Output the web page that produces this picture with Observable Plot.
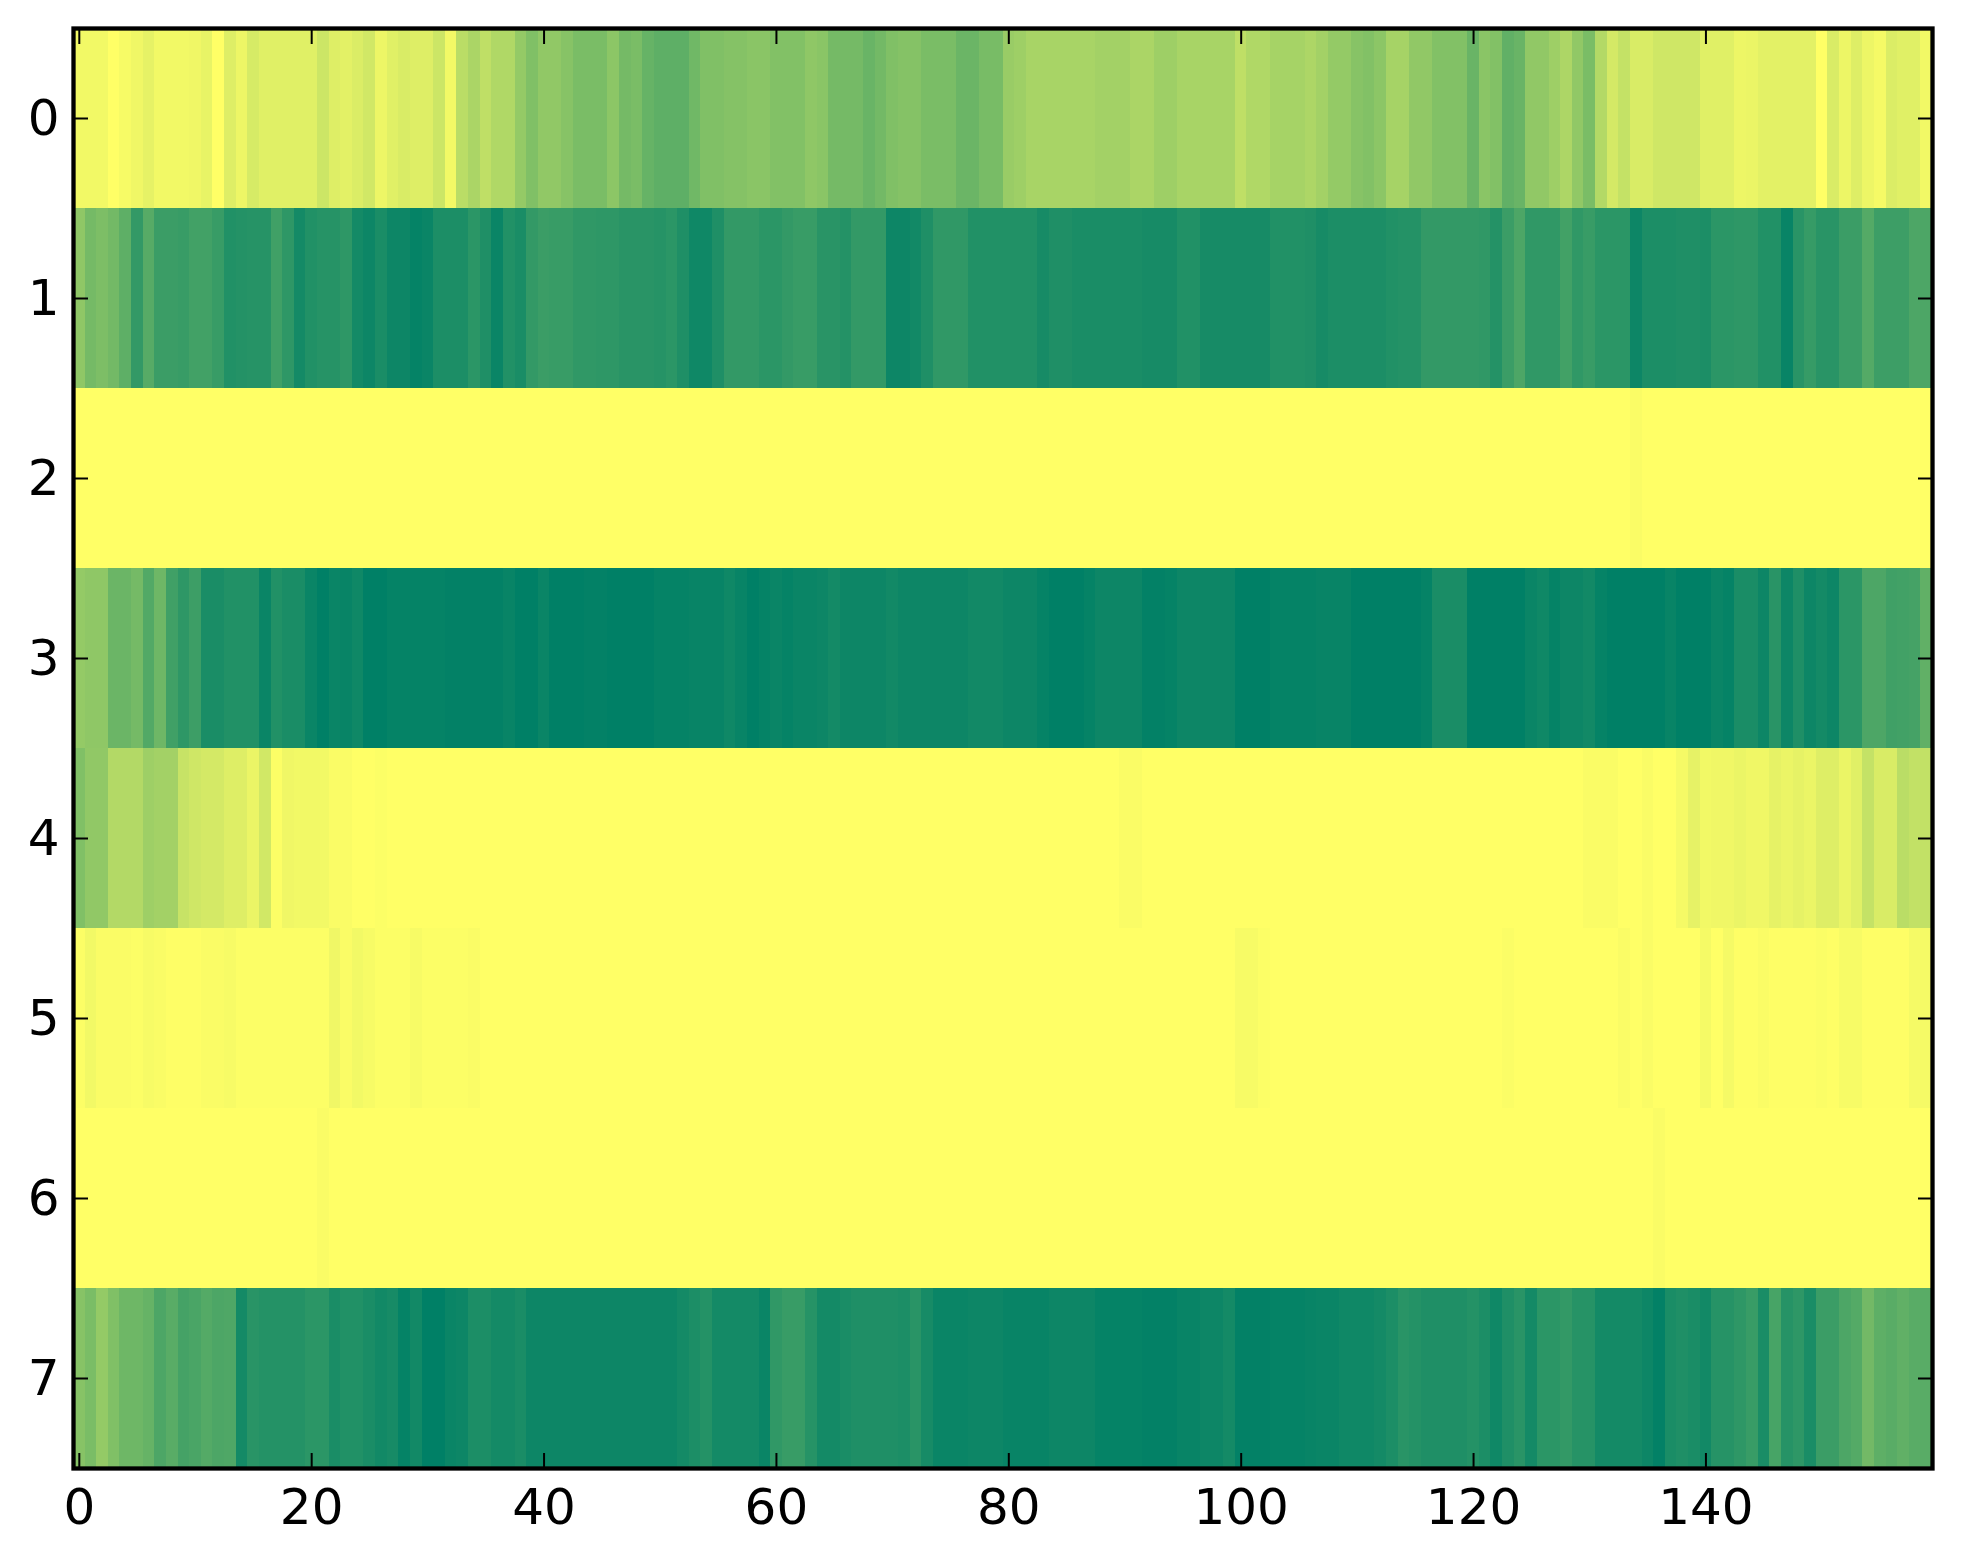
<!DOCTYPE html>
<html>
<head>
<meta charset="utf-8">
<script src="https://cdn.jsdelivr.net/npm/d3@7"></script>
<script src="https://cdn.jsdelivr.net/npm/@observablehq/plot@0.6"></script>
<style>
html,body{margin:0;padding:0;background:#fff}
svg{display:block}
</style>
</head>
<body>
<div id="chart"></div>
<script>
const row0 = [.05,.05,.05,0,.03,.06,.10,.05,.05,.05,
.06,.09,0,.13,.07,.16,.12,.12,.12,.12,
.12,.2,.13,.11,.14,.18,.07,.12,.15,.13,
.13,.2,.05,.27,.33,.25,.31,.31,.42,.5,
.43,.43,.47,.52,.52,.52,.45,.54,.52,.6,
.63,.63,.63,.56,.5,.5,.48,.48,.46,.46,
.49,.49,.49,.44,.46,.54,.54,.54,.59,.55,
.5,.48,.48,.52,.52,.52,.58,.58,.53,.53,
.4,.38,.34,.34,.34,.34,.34,.34,.36,.36,
.36,.33,.33,.38,.38,.34,.34,.34,.34,.34,
.25,.31,.31,.35,.35,.35,.32,.36,.42,.42,
.47,.49,.45,.35,.35,.43,.43,.49,.49,.49,
.59,.46,.49,.62,.59,.43,.43,.38,.32,.43,
.52,.3,.17,.23,.15,.15,.19,.19,.19,.19,
.12,.12,.12,.07,.08,.11,.11,.11,.11,.11,
0,.15,.07,.13,.07,.04,.14,.12,.12,.05];
const row1 = [.44,.54,.51,.55,.63,.8,.66,.77,.77,.78,
.74,.74,.78,.87,.86,.85,.85,.75,.82,.92,
.87,.85,.85,.82,.92,.95,.9,.95,.95,.98,
.96,.89,.89,.89,.83,.88,.96,.87,.9,.8,
.77,.78,.78,.81,.81,.82,.82,.84,.84,.84,
.85,.83,.88,.94,.94,.88,.8,.8,.8,.83,
.83,.8,.78,.78,.84,.84,.86,.8,.8,.8,
.95,.95,.93,.88,.81,.81,.81,.87,.87,.87,
.87,.87,.87,.91,.88,.88,.9,.9,.9,.9,
.9,.9,.91,.91,.91,.87,.87,.91,.91,.91,
.91,.91,.91,.87,.87,.87,.88,.91,.89,.89,
.89,.89,.89,.87,.86,.86,.8,.8,.8,.8,
.8,.81,.86,.77,.7,.81,.81,.81,.74,.81,
.78,.83,.83,.83,.95,.89,.89,.89,.88,.88,
.89,.83,.83,.82,.82,.87,.87,.97,.84,.79,
.84,.84,.77,.77,.67,.76,.76,.76,.7,.7];
const row2 = [0,0,0,0,0,0,0,0,0,0,
0,0,0,0,0,0,0,0,0,0,
0,0,0,0,0,0,0,0,0,0,
0,0,0,0,0,0,0,0,0,0,
0,0,0,0,0,0,0,0,0,0,
0,0,0,0,0,0,0,0,0,0,
0,0,0,0,0,0,0,0,0,0,
0,0,0,0,0,0,0,0,0,0,
0,0,0,0,0,0,0,0,0,0,
0,0,0,0,0,0,0,0,0,0,
0,0,0,0,0,0,0,0,0,0,
0,0,0,0,0,0,0,0,0,0,
0,0,0,0,0,0,0,0,0,0,
0,0,0,0,.02,0,0,0,0,0,
0,0,0,0,0,0,0,0,0,0,
0,0,0,0,0,0,0,0,0,0];
const row3 = [.42,.44,.44,.58,.58,.54,.68,.57,.75,.82,
.76,.9,.9,.87,.87,.87,.96,.87,.9,.9,
.96,1,.96,.97,.94,1,1,.98,.98,.98,
.98,.98,.99,.99,.99,.99,.99,.97,1,1,
.96,1,1,1,.99,.99,1,1,1,1,
.98,.98,.98,.97,.97,.97,.94,.97,1,.98,
.96,.98,.96,.96,.95,.92,.95,.95,.95,.95,
.93,.95,.95,.95,.95,.95,.95,.93,.93,.93,
.95,.95,.95,.98,1,1,1,.98,.95,.95,
.95,.95,.99,.99,.98,.95,.95,.95,.95,.95,
1,1,1,.98,.98,.98,.98,.97,.97,.97,
1,1,1,1,1,1,.98,.9,.9,.9,
1,1,1,1,1,.96,.94,.98,.95,.95,
.93,.98,1,1,1,1,1,.97,1,1,
1,.96,.98,.9,.9,.95,.84,.95,.88,.95,
.92,.95,.83,.83,.7,.7,.75,.74,.73,.62];
const row4 = [.5,.43,.43,.3,.3,.3,.38,.36,.36,.22,
.19,.17,.17,.13,.13,.08,.18,.01,.06,.05,
.05,.05,.02,.02,0,0,.01,0,0,0,
0,0,0,0,0,0,0,0,0,0,
0,0,0,0,0,0,0,0,0,0,
0,0,0,0,0,0,0,0,0,0,
0,0,0,0,0,0,0,0,0,0,
0,0,0,0,0,0,0,0,0,0,
0,0,0,0,0,0,0,0,0,0,
.02,.02,0,0,0,0,0,0,0,0,
0,0,0,0,0,0,0,0,0,0,
0,0,0,0,0,0,0,0,0,0,
0,0,0,0,0,0,0,0,0,0,
.02,.02,.02,0,0,.02,0,0,.04,.1,
.05,.06,.06,.08,.06,.06,.1,.08,.1,.08,
.13,.13,.08,.12,.23,.15,.15,.27,.24,.24];
const row5 = [.01,.05,.02,.02,.02,.01,.03,.02,.005,.005,
.005,.02,.02,.03,.01,.01,.01,.01,.01,.01,
.01,.01,.06,.02,.05,.03,.01,.01,.01,.03,
.01,.01,.01,.01,.02,0,0,0,0,0,
0,0,0,0,0,0,0,0,0,0,
0,0,0,0,0,0,0,0,0,0,
0,0,0,0,0,0,0,0,0,0,
0,0,0,0,0,0,0,0,0,0,
0,0,0,0,0,0,0,0,0,0,
0,0,0,0,0,0,0,0,0,0,
.03,.03,.01,0,0,0,0,0,0,0,
0,0,0,0,0,0,0,0,0,0,
0,0,0,.015,0,0,0,0,0,0,
0,0,0,.02,0,.02,0,0,0,0,
.04,0,.04,.005,.005,.02,.005,.005,.005,.005,
.015,.005,.03,.03,.005,.005,.005,.005,.04,.04];
const row6 = [0,0,0,0,0,0,0,0,0,0,
0,0,0,0,0,0,0,0,0,0,
0,.02,0,0,0,0,0,0,0,0,
0,0,0,0,0,0,0,0,0,0,
0,0,0,0,0,0,0,0,0,0,
0,0,0,0,0,0,0,0,0,0,
0,0,0,0,0,0,0,0,0,0,
0,0,0,0,0,0,0,0,0,0,
0,0,0,0,0,0,0,0,0,0,
0,0,0,0,0,0,0,0,0,0,
0,0,0,0,0,0,0,0,0,0,
0,0,0,0,0,0,0,0,0,0,
0,0,0,0,0,0,0,0,0,0,
0,0,0,0,0,0,.02,0,0,0,
0,0,0,0,0,0,0,0,0,0,
0,0,0,0,0,0,0,0,0,0];
const row7 = [.47,.52,.42,.5,.57,.57,.6,.7,.65,.73,
.71,.67,.7,.69,.92,.84,.86,.86,.86,.86,
.83,.83,.9,.87,.87,.9,.93,.91,.98,.93,
1,1,.96,.95,.89,.89,.92,.92,.9,.95,
.95,.95,.95,.95,.95,.95,.95,.95,.95,.95,
.95,.95,.92,.89,.86,.92,.92,.92,.92,.96,
.81,.78,.78,.85,.92,.92,.9,.88,.88,.88,
.88,.89,.84,.91,.96,.96,.96,.95,.95,.95,
.97,.97,.97,.97,.95,.95,.95,.95,.98,.98,
.98,.98,.99,.99,.99,.97,.97,.95,.95,.92,
.99,.99,.99,.98,.98,.98,.97,.96,.96,.94,
.94,.94,.92,.89,.84,.86,.88,.88,.88,.88,
.86,.89,.94,.88,.84,.92,.83,.83,.8,.85,
.85,.92,.92,.92,.92,.95,.99,.9,.88,.9,
.93,.85,.85,.82,.78,.9,.72,.85,.82,.9,
.77,.77,.7,.67,.55,.63,.65,.62,.65,.65];

const rows = [row0, row1, row2, row3, row4, row5, row6, row7];
const xTicks = [0, 20, 40, 60, 80, 100, 120, 140];
const yTicks = [0, 1, 2, 3, 4, 5, 6, 7];
const colorRange = ["#ffff66", "#008066"];

const cells = rows.flatMap((values, r) => values.map((v, c) => ({r, c, v})));

const chart = Plot.plot({
  width: 1963,
  height: 1564,
  marginLeft: 73,
  marginRight: 31,
  marginTop: 28,
  marginBottom: 96,
  style: {background: "#fff", fontFamily: "'DejaVu Sans'", color: "#000", overflow: "visible"},
  x: {type: "linear", domain: [-0.5, 159.5], label: null},
  y: {type: "linear", domain: [7.5, -0.5], label: null},
  color: {type: "linear", domain: [0, 1], range: colorRange},
  marks: [
    Plot.rect(cells, {
      x1: d => d.c - 0.5,
      x2: d => d.c + 0.5,
      y1: d => d.r - 0.5,
      y2: d => d.r + 0.5,
      fill: "v",
      shapeRendering: "crispEdges"
    }),
    Plot.axisX({anchor: "bottom", ticks: xTicks, tickSize: -15, tickPadding: 35, fontSize: 50, strokeWidth: 2, label: null, stroke: "#000"}),
    Plot.axisX({anchor: "top", ticks: xTicks, tickSize: -15, fill: "none", strokeWidth: 2, label: null, stroke: "#000"}),
    Plot.axisY({anchor: "left", ticks: yTicks, tickSize: -15, tickPadding: 29, fontSize: 50, strokeWidth: 2, label: null, stroke: "#000"}),
    Plot.axisY({anchor: "right", ticks: yTicks, tickSize: -15, fill: "none", strokeWidth: 2, label: null, stroke: "#000"}),
    Plot.frame({stroke: "#000", strokeWidth: 4.3})
  ]
});
document.getElementById("chart").appendChild(chart);
</script>
</body>
</html>
